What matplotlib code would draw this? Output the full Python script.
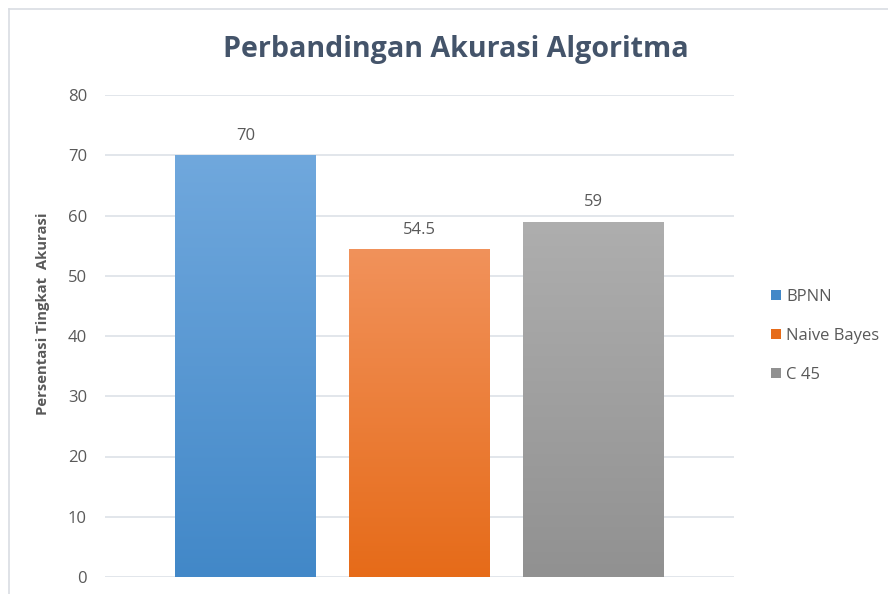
import numpy as np
import matplotlib.pyplot as plt
import matplotlib.colors as mcolors
from matplotlib.lines import Line2D
from matplotlib.patches import Patch

plt.rcParams['font.family'] = ['Open Sans', 'DejaVu Sans']

algoritma = ['BPNN', 'Naive Bayes', 'C 45']
akurasi = [70, 54.5, 59]
label_nilai = ['70', '54.5', '59']
warna_atas = ['#70a8dd', '#f1925b', '#aeaeae']
warna_bawah = ['#4288c8', '#e66b19', '#919191']
yticks = [0, 10, 20, 30, 40, 50, 60, 70, 80]

W, H = 888, 594
fig = plt.figure(figsize=(W / 100, H / 100), dpi=100)
ax = fig.add_axes([105 / W, 17 / H, 629 / W, 482 / H])

x = np.arange(len(algoritma))
bars = ax.bar(x, akurasi, width=0.81, color='none', edgecolor='none', zorder=3)

# gradasi warna di tiap batang
grad = np.linspace(1, 0, 256).reshape(-1, 1)
for b, top, bot in zip(bars, warna_atas, warna_bawah):
    cmap = mcolors.LinearSegmentedColormap.from_list('g', [bot, top])
    x0, y0 = b.get_x(), b.get_y()
    im = ax.imshow(grad, cmap=cmap, aspect='auto', zorder=3,
                   extent=[x0, x0 + b.get_width(), y0, y0 + b.get_height()])
    im.set_clip_path(b)

for b, lab in zip(bars, label_nilai):
    ax.annotate(lab, (b.get_x() + b.get_width() / 2, b.get_height()),
                xytext=(0, 8), textcoords='offset points', ha='center', va='bottom',
                fontsize=12, color='#595959')

ax.set_xlim(-0.807, 2.807)
ax.set_ylim(0, 80)
ax.set_yticks(yticks)
ax.set_xticks([])
ax.grid(axis='y', color='#dde1e8', linewidth=1.2, zorder=0)
for s in ax.spines.values():
    s.set_visible(False)
ax.tick_params(axis='y', length=0, pad=13, labelsize=12, labelcolor='#595959')
ax.set_ylabel('Persentasi Tingkat  Akurasi', fontsize=10.7, fontweight='bold',
              color='#595959')
ax.yaxis.set_label_coords(-0.088, 0.547)

fig.text(456 / W, 1 - 50 / H, 'Perbandingan Akurasi Algoritma', ha='center', va='center',
         fontsize=20.6, fontweight='bold', color='#44546a')

handles = [Patch(facecolor=c, edgecolor='none') for c in warna_bawah]
fig.legend(handles, algoritma, loc='center left', bbox_to_anchor=(756 / W, 1 - 336 / H),
           frameon=False, fontsize=12, labelcolor='#595959', handlelength=0.6,
           handleheight=0.6, handletextpad=0.3, labelspacing=1.38)

fig.add_artist(Line2D([9 / W, 1], [1 - 9 / H, 1 - 9 / H], color='#d9dde3', lw=1.2))
fig.add_artist(Line2D([9 / W, 9 / W], [0, 1 - 9 / H], color='#d9dde3', lw=1.2))

fig.savefig('out.png', dpi=100, facecolor='white')
